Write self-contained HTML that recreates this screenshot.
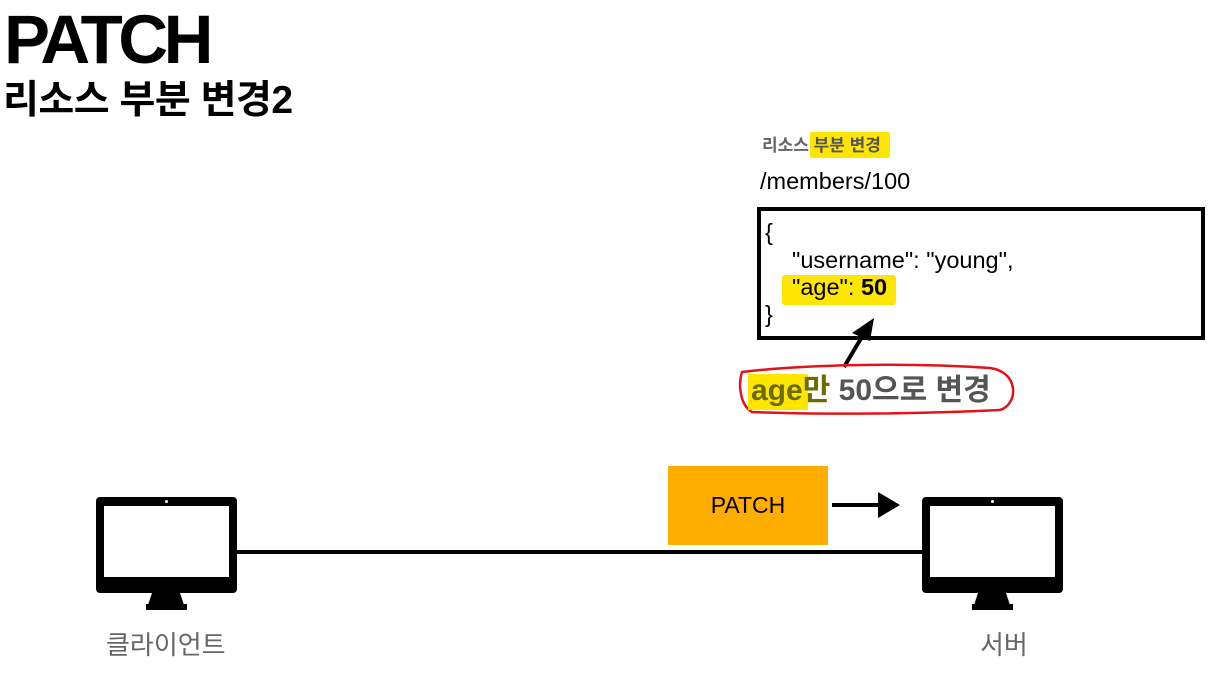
<!DOCTYPE html>
<html><head><meta charset="utf-8"><style>
*{margin:0;padding:0;box-sizing:border-box}
body{width:1209px;height:676px;background:#fff;position:relative;overflow:hidden;font-family:"Liberation Sans","Noto Sans CJK KR",sans-serif}
.a{position:absolute;white-space:nowrap}
.mon{position:absolute;width:141px;height:96px;background:#000;border-radius:4px}
.mon .s{position:absolute;left:8px;top:9px;width:125px;height:71px;background:#fff}
.mon .d{position:absolute;left:69px;top:3px;width:3px;height:3px;background:#fff;border-radius:50%}
</style></head><body>
<div class="a" style="left:4px;top:2px;font-size:69px;font-weight:bold;letter-spacing:-4.5px;line-height:76px">PATCH</div>
<div class="a" style="left:3px;top:77px;font-size:39px;font-weight:bold;line-height:48px;letter-spacing:-0.5px">리소스 부분 변경2</div>

<div class="a" style="left:810px;top:132px;width:80px;height:26px;background:#ffe600;border-radius:2px"></div>
<div class="a" style="left:762px;top:135px;font-size:17px;font-weight:bold;color:#666;line-height:22px">리소스 <span style="color:#555">부분 변경</span></div>
<div class="a" style="left:760px;top:168px;font-size:23.5px;line-height:26px">/members/100</div>

<svg class="a" style="left:0;top:0" width="1209" height="676">
<rect x="759" y="209" width="444" height="129" fill="none" stroke="#000" stroke-width="4"/>
<rect x="782" y="275" width="114" height="30" fill="#ffe600" rx="3"/>
<line x1="844" y1="367" x2="866" y2="330" stroke="#000" stroke-width="4"/>
<polygon points="874,318 852,333 870,341" fill="#000"/>
<path d="M742,372 C800,365 900,362 990,368 C1020,372 1018,405 1000,410 C900,415 800,414 752,412 C740,405 738,385 742,372 Z" fill="none" stroke="#e0151b" stroke-width="2.5"/>
<rect x="748" y="374" width="60" height="36" fill="#ffe600"/>
<line x1="236" y1="552" x2="922" y2="552" stroke="#000" stroke-width="4"/>
<line x1="832" y1="505" x2="880" y2="505" stroke="#000" stroke-width="4"/>
<polygon points="878,492 900,505 878,518" fill="#000"/>
<polygon points="152,593 180,593 184,605 148,605" fill="#000"/>
<rect x="146" y="604" width="41" height="6" fill="#000"/>
<polygon points="978,593 1006,593 1010,605 974,605" fill="#000"/>
<rect x="972" y="604" width="41" height="6" fill="#000"/>
</svg>

<div class="a" style="left:765px;top:219px;font-size:23.5px;line-height:26px">{</div>
<div class="a" style="left:792px;top:247px;font-size:23.5px;line-height:26px">"username": "young",</div>
<div class="a" style="left:792px;top:274px;font-size:23.5px;line-height:26px">"age": <b>50</b></div>
<div class="a" style="left:765px;top:301px;font-size:23.5px;line-height:26px">}</div>

<div class="a" style="left:751px;top:372px;font-size:30px;font-weight:bold;color:#555;line-height:38px"><span style="color:#6b6b00">age만</span> 50으로 변경</div>

<div class="a" style="left:668px;top:466px;width:160px;height:79px;background:#ffad00;font-size:23px;line-height:79px;text-align:center">PATCH</div>

<div class="mon" style="left:96px;top:497px"><div class="s"></div><div class="d"></div></div>
<div class="mon" style="left:922px;top:497px"><div class="s"></div><div class="d"></div></div>

<div class="a" style="left:106px;top:628px;font-size:26px;color:#666;line-height:34px">클라이언트</div>
<div class="a" style="left:980px;top:628px;font-size:26px;color:#666;line-height:34px">서버</div>
</body></html>
